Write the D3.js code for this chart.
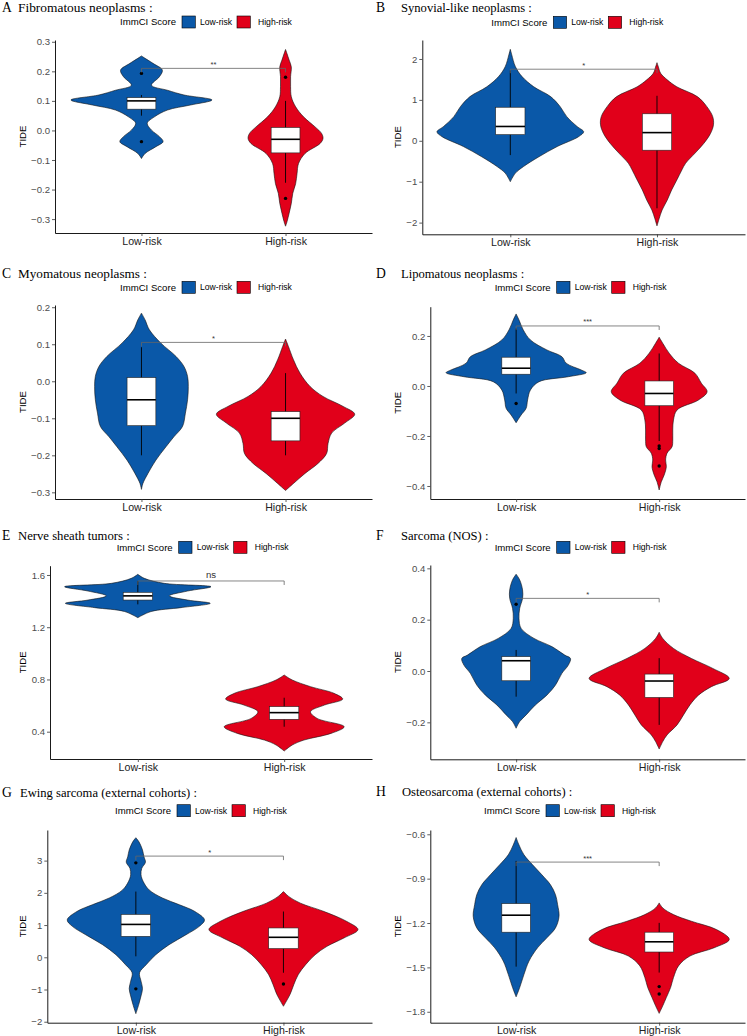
<!DOCTYPE html>
<html><head><meta charset="utf-8">
<script src="https://cdn.jsdelivr.net/npm/d3@7"></script>
<style>body{margin:0;background:#fff} svg{display:block}</style>
</head><body><svg id="c" width="747" height="1036"></svg>
<script>
// ---------------- DATA ----------------
const categories = ["Low-risk", "High-risk"];
const legendTitle = "ImmCI Score";
const yTitle = "TIDE";
const panelLetters = ["A","B","C","D","E","F","G","H"];
const panelTitles = [
  "Fibromatous neoplasms :", "Synovial-like neoplasms :",
  "Myomatous neoplasms :", "Lipomatous neoplasms :",
  "Nerve sheath tumors :", "Sarcoma (NOS) :",
  "Ewing sarcoma (external cohorts) :", "Osteosarcoma (external cohorts) :"
];
const yTicksA = [-0.3,-0.2,-0.1,0,0.1,0.2,0.3];
const yTicksB = [-2,-1,0,1,2];
const yTicksC = [-0.3,-0.2,-0.1,0,0.1,0.2];
const yTicksD = [-0.4,-0.2,0,0.2];
const yTicksE = [0.4,0.8,1.2,1.6];
const yTicksF = [-0.2,0,0.2,0.4];
const yTicksG = [-2,-1,0,1,2,3];
const yTicksH = [-1.8,-1.5,-1.2,-0.9,-0.6];
const tickFormats = [".1f","d",".1f",".1f",".1f",".1f","d",".1f"];
const sigLabels = ["**","*","*","***","ns","*","*","***"];
const sigLevels = [0.21, 1.75, 0.105, 0.24, 1.554, 0.283, 3.14, -0.788];

// violin profiles: [TIDE value, relative density]
const violinA_low = [[0.252,0],[0.244,.05],[0.227,.16],[0.204,.29],[0.182,.25],[0.153,.14],[0.136,.36],[0.12,.59],[0.103,.98],[0.086,.68],[0.069,.36],[0.046,.18],[0.024,.08],[0.001,.14],[-0.021,.25],[-0.038,.30],[-0.055,.20],[-0.078,.05],[-0.095,0]];
const violinA_high = [[0.274,0],[0.26,.02],[0.238,.05],[0.215,.08],[0.182,.07],[0.148,.07],[0.114,.08],[0.08,.14],[0.046,.25],[0.012,.41],[-0.01,.5],[-0.027,.52],[-0.044,.48],[-0.078,.27],[-0.112,.18],[-0.145,.16],[-0.18,.14],[-0.213,.10],[-0.247,.08],[-0.28,.05],[-0.309,.02],[-0.324,0]];
const violinB_low = [[2.236,0],[2.1,.02],[1.81,.07],[1.57,.16],[1.32,.32],[1.08,.55],[0.835,.68],[0.59,.77],[0.35,.91],[0.22,1.0],[0.1,.93],[-0.14,.64],[-0.39,.39],[-0.63,.18],[-0.79,.07],[-1.0,0]];
const violinB_high = [[1.91,0],[1.8,.02],[1.65,.05],[1.49,.14],[1.32,.27],[1.08,.55],[0.835,.68],[0.59,.76],[0.39,.77],[0.18,.73],[-0.06,.64],[-0.3,.52],[-0.55,.39],[-0.71,.34],[-0.96,.27],[-1.2,.2],[-1.45,.14],[-1.69,.07],[-1.9,.03],[-2.08,0]];
const violinC_low = [[0.184,0],[0.166,.05],[0.139,.11],[0.103,.27],[0.067,.48],[0.04,.59],[0.013,.64],[-0.014,.65],[-0.05,.64],[-0.086,.61],[-0.122,.57],[-0.15,.45],[-0.177,.34],[-0.213,.2],[-0.249,.09],[-0.276,.02],[-0.292,0]];
const violinC_high = [[0.114,0],[0.094,.04],[0.058,.11],[0.022,.2],[-0.014,.34],[-0.041,.52],[-0.068,.8],[-0.089,.96],[-0.113,.82],[-0.14,.64],[-0.168,.59],[-0.195,.57],[-0.222,.45],[-0.249,.27],[-0.276,.11],[-0.295,0]];
const violinD_low = [[0.288,0],[0.264,.04],[0.224,.1],[0.184,.2],[0.144,.43],[0.117,.64],[0.091,.7],[0.064,.91],[0.053,.98],[0.037,.73],[0.017,.32],[-0.016,.2],[-0.056,.16],[-0.089,.14],[-0.116,.07],[-0.147,0]];
const violinD_high = [[0.195,0],[0.171,.05],[0.131,.14],[0.091,.27],[0.051,.5],[0.011,.59],[-0.023,.67],[-0.056,.55],[-0.096,.25],[-0.136,.2],[-0.176,.19],[-0.216,.19],[-0.243,.18],[-0.269,.11],[-0.296,.09],[-0.323,.1],[-0.356,.07],[-0.383,.03],[-0.416,0]];
const violinE_low = [[1.605,0],[1.574,.09],[1.536,.36],[1.51,1.0],[1.477,.68],[1.44,.43],[1.408,.68],[1.383,.99],[1.35,.59],[1.32,.18],[1.273,0]];
const violinE_high = [[0.834,0],[0.796,.11],[0.745,.36],[0.694,.68],[0.65,.8],[0.604,.55],[0.553,.36],[0.502,.45],[0.438,.82],[0.387,.64],[0.336,.27],[0.298,.11],[0.252,0]];
const violinF_low = [[0.377,0],[0.355,.05],[0.316,.09],[0.283,.09],[0.244,.05],[0.205,.04],[0.166,.07],[0.127,.25],[0.095,.5],[0.062,.68],[0.049,.76],[0.023,.73],[-0.009,.64],[-0.055,.55],[-0.094,.43],[-0.132,.27],[-0.171,.14],[-0.197,.05],[-0.223,0]];
const violinF_high = [[0.151,0],[0.127,.05],[0.088,.2],[0.049,.45],[0.01,.75],[-0.029,.98],[-0.061,.73],[-0.094,.55],[-0.132,.43],[-0.171,.34],[-0.21,.25],[-0.249,.11],[-0.275,.05],[-0.304,0]];
const violinG_low = [[3.71,0],[3.59,.04],[3.33,.09],[3.12,.11],[2.95,.13],[2.76,.08],[2.56,.07],[2.35,.1],[2.09,.18],[1.84,.36],[1.63,.59],[1.42,.8],[1.16,.93],[0.96,.86],[0.7,.68],[0.39,.45],[0.08,.27],[-0.23,.14],[-0.48,.05],[-0.74,.07],[-0.97,.09],[-1.2,.07],[-1.46,.04],[-1.75,0]];
const violinG_high = [[2.04,0],[1.89,.07],[1.68,.23],[1.42,.55],[1.11,.86],[0.86,1.01],[0.6,.82],[0.34,.59],[0.08,.43],[-0.23,.3],[-0.54,.2],[-0.85,.14],[-1.15,.09],[-1.36,.04],[-1.52,0]];
const violinH_low = [[-0.622,0],[-0.672,.04],[-0.739,.11],[-0.806,.23],[-0.874,.36],[-0.941,.48],[-1.008,.55],[-1.076,.58],[-1.154,.6],[-1.233,.55],[-1.3,.43],[-1.367,.3],[-1.457,.18],[-1.547,.11],[-1.636,.05],[-1.699,0]];
const violinH_high = [[-1.064,0],[-1.098,.05],[-1.143,.2],[-1.188,.45],[-1.244,.8],[-1.311,.98],[-1.367,.77],[-1.423,.43],[-1.49,.27],[-1.569,.2],[-1.636,.16],[-1.704,.1],[-1.76,.05],[-1.811,0]];

// box stats: [lower whisker, Q1, median, Q3, upper whisker]
const boxA_low = [0.05,0.072,0.10,0.111,0.12],   boxA_high = [-0.177,-0.076,-0.03,0.01,0.10];
const boxB_low = [-0.35,0.15,0.35,0.82,1.72],    boxB_high = [-1.65,-0.23,0.2,0.66,1.1];
const boxC_low = [-0.2,-0.12,-0.05,0.01,0.092],  boxC_high = [-0.2,-0.161,-0.1,-0.082,0.022];
const boxD_low = [-0.03,0.047,0.071,0.115,0.23], boxD_high = [-0.22,-0.079,-0.03,0.02,0.13];
const boxE_low = [1.375,1.408,1.44,1.467,1.554], boxE_high = [0.438,0.495,0.546,0.592,0.66];
const boxF_low = [-0.1,-0.038,0.04,0.056,0.082], boxF_high = [-0.21,-0.103,-0.039,-0.012,0.05];
const boxG_low = [0.03,0.65,1.02,1.33,2.04],     boxG_high = [-0.48,0.27,0.62,0.91,1.42];
const boxH_low = [-1.495,-1.262,-1.147,-1.069,-0.78], boxH_high = [-1.535,-1.396,-1.327,-1.262,-1.199];

// outliers
const outA_low = [0.193,-0.038], outA_high = [0.18,-0.23];
const outB_low = [], outB_high = [];
const outC_low = [], outC_high = [];
const outD_low = [-0.07], outD_high = [-0.24,-0.25,-0.32];
const outE_low = [], outE_high = [];
const outF_low = [0.26], outF_high = [];
const outG_low = [2.93,-0.98], outG_high = [-0.83];
const outH_low = [], outH_high = [-1.63,-1.68];

const fillColors = ["#0A58A8", "#E1001A"];

// ---------------- LAYOUT ----------------
const layout = [
  {x0:55,   x1:372, top:40,    bottom:233,    dom:[-0.347,0.306], titleY:11.7, letterX:2,   titleX:18,  legendX:120,   legendY:22,    tideX:23},
  {x0:422.3,x1:745, top:40,    bottom:234.3,  dom:[-2.286,2.464], titleY:11.7, letterX:376, titleX:401, legendX:491.3, legendY:22.3,  tideX:398},
  {x0:55,   x1:372, top:305,   bottom:499,    dom:[-0.318,0.206], titleY:278.3,letterX:2,   titleX:18,  legendX:120,   legendY:287.3, tideX:23},
  {x0:430.3,x1:745, top:306.7, bottom:499,    dom:[-0.452,0.317], titleY:278,  letterX:376, titleX:401, legendX:494.7, legendY:287.3, tideX:398},
  {x0:50,   x1:372, top:565.7, bottom:759,    dom:[0.191,1.671],  titleY:540,  letterX:2,   titleX:18,  legendX:116.7, legendY:547.3, tideX:23},
  {x0:430.3,x1:745, top:565,   bottom:759.3,  dom:[-0.344,0.413], titleY:540,  letterX:376, titleX:401, legendX:494.7, legendY:547.3, tideX:398},
  {x0:47.3, x1:372, top:830,   bottom:1022.7, dom:[-2.03,3.95],   titleY:796.5,letterX:2,   titleX:20,  legendX:115,   legendY:810.7, tideX:23},
  {x0:430.3,x1:745, top:830,   bottom:1022.7, dom:[-1.874,-0.571],titleY:795.7,letterX:376, titleX:402, legendX:484,   legendY:810.7, tideX:398}
];
const titleSizes = [13.4, 12.6, 13.2, 12.6, 12.7, 12.6, 12.6, 12.6];

const panels = [
  {ticks:yTicksA, v:[violinA_low,violinA_high], b:[boxA_low,boxA_high], o:[outA_low,outA_high]},
  {ticks:yTicksB, v:[violinB_low,violinB_high], b:[boxB_low,boxB_high], o:[outB_low,outB_high]},
  {ticks:yTicksC, v:[violinC_low,violinC_high], b:[boxC_low,boxC_high], o:[outC_low,outC_high]},
  {ticks:yTicksD, v:[violinD_low,violinD_high], b:[boxD_low,boxD_high], o:[outD_low,outD_high]},
  {ticks:yTicksE, v:[violinE_low,violinE_high], b:[boxE_low,boxE_high], o:[outE_low,outE_high]},
  {ticks:yTicksF, v:[violinF_low,violinF_high], b:[boxF_low,boxF_high], o:[outF_low,outF_high]},
  {ticks:yTicksG, v:[violinG_low,violinG_high], b:[boxG_low,boxG_high], o:[outG_low,outG_high]},
  {ticks:yTicksH, v:[violinH_low,violinH_high], b:[boxH_low,boxH_high], o:[outH_low,outH_high]}
];

const SANS = "'Liberation Sans', Arial, sans-serif";
const SERIF = "'Liberation Serif', 'Times New Roman', serif";
const svg = d3.select("#c");

panels.forEach((p, i) => {
  const L = layout[i];
  const g = svg.append("g");
  const x = d3.scalePoint().domain(categories).range([L.x0, L.x1]).padding(0.6);
  const y = d3.scaleLinear().domain(L.dom).range([L.bottom, L.top]);
  const w = d3.scaleLinear().domain([0, 1]).range([0, x.step() * 0.5]);
  const boxHalf = x.step() * 0.1;

  // title
  g.append("text").attr("x", L.letterX).attr("y", L.titleY)
    .attr("font-family", SERIF).attr("font-size", 13.6).attr("fill", "#000").text(panelLetters[i]);
  g.append("text").attr("x", L.titleX).attr("y", L.titleY)
    .attr("font-family", SERIF).attr("font-size", titleSizes[i]).attr("fill", "#000").text(panelTitles[i]);

  // legend
  const lg = g.append("g").attr("transform", `translate(${L.legendX},${L.legendY})`);
  lg.append("text").attr("x", 0).attr("y", 3.3).attr("font-family", SANS).attr("font-size", 9.6)
    .attr("fill", "#000").text(legendTitle);
  const keyX = [62, 117], txtX = [80, 138];
  categories.forEach((c, k) => {
    lg.append("rect").attr("x", keyX[k]).attr("y", -6).attr("width", 13.3).attr("height", 12)
      .attr("fill", fillColors[k]).attr("stroke", "#000").attr("stroke-width", 0.6);
    lg.append("text").attr("x", txtX[k]).attr("y", 3).attr("font-family", SANS).attr("font-size", 8.6)
      .attr("fill", "#000").text(c);
  });

  // axes
  const fmt = d3.format(tickFormats[i]);
  const ya = g.append("g").attr("transform", `translate(${L.x0},0)`)
    .call(d3.axisLeft(y).tickValues(p.ticks).tickFormat(fmt).tickSize(3).tickSizeOuter(0).tickPadding(2));
  const xa = g.append("g").attr("transform", `translate(0,${L.bottom})`)
    .call(d3.axisBottom(x).tickSize(3).tickSizeOuter(0).tickPadding(1));
  [ya, xa].forEach(a => {
    a.select(".domain").attr("stroke", "#000").attr("stroke-width", 0.9);
    a.selectAll(".tick line").attr("stroke", "#333").attr("stroke-width", 0.8);
    a.selectAll(".tick text").attr("font-family", SANS).attr("fill", "#4d4d4d");
  });
  ya.selectAll(".tick text").attr("font-size", 9.6);
  xa.selectAll(".tick text").attr("font-size", 10.6).attr("fill", "#222");

  g.append("text").attr("transform", `translate(${L.tideX},${(L.top + L.bottom) / 2}) rotate(-90)`)
    .attr("text-anchor", "middle").attr("dy", "0.35em").attr("font-family", SANS).attr("font-size", 9.6)
    .attr("fill", "#000").text(yTitle);

  // violins, boxes
  categories.forEach((c, k) => {
    const cx = x(c);
    const area = d3.area().curve(d3.curveCatmullRom.alpha(0.5))
      .y(d => y(d[0])).x0(d => cx - w(d[1])).x1(d => cx + w(d[1]));
    g.append("path").datum(p.v[k]).attr("d", area)
      .attr("fill", fillColors[k]).attr("stroke", "#111").attr("stroke-width", 0.6);
    const b = p.b[k];
    g.append("line").attr("x1", cx).attr("x2", cx).attr("y1", y(b[0])).attr("y2", y(b[4]))
      .attr("stroke", "#000").attr("stroke-width", 0.9);
    g.append("rect").attr("x", cx - boxHalf).attr("width", 2 * boxHalf)
      .attr("y", y(b[3])).attr("height", y(b[1]) - y(b[3]))
      .attr("fill", "#fff").attr("stroke", "#222").attr("stroke-width", 0.6);
    g.append("line").attr("x1", cx - boxHalf).attr("x2", cx + boxHalf).attr("y1", y(b[2])).attr("y2", y(b[2]))
      .attr("stroke", "#000").attr("stroke-width", 1.6);
    g.selectAll(null).data(p.o[k]).enter().append("circle")
      .attr("cx", cx).attr("cy", d => y(d)).attr("r", 1.7).attr("fill", "#000");
  });

  // significance bracket
  const xl = x(categories[0]), xr = x(categories[1]), ys = y(sigLevels[i]);
  g.append("path").attr("d", `M${xl},${ys + 4}V${ys}H${xr}V${ys + 4}`)
    .attr("fill", "none").attr("stroke", "#666").attr("stroke-width", 0.8);
  const isNs = sigLabels[i] === "ns";
  g.append("text").attr("x", (xl + xr) / 2).attr("y", ys - (isNs ? 3 : 1.5)).attr("text-anchor", "middle")
    .attr("font-family", SANS).attr("font-size", isNs ? 9.6 : 7.5).attr("fill", "#333").text(sigLabels[i]);
});
</script></body></html>
